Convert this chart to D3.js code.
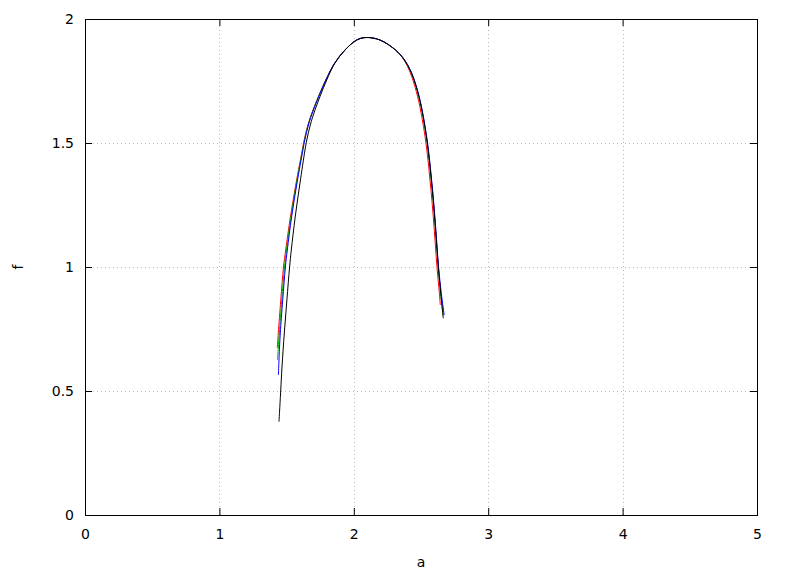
<!DOCTYPE html>
<html><head><meta charset="utf-8">
<script src="https://cdn.jsdelivr.net/npm/d3@7"></script>
<style>body{margin:0;background:#fff}svg{display:block}text{font-family:"DejaVu Sans",sans-serif;font-size:14px;fill:#000}</style>
</head><body><div id="c"></div>
<script>
const xTicks = [0, 1, 2, 3, 4, 5];
const yTicks = [0, 0.5, 1, 1.5, 2];
const xLabel = "a";
const yLabel = "f";

const redA = [1.4308, 1.4382, 1.4568, 1.4769, 1.4933, 1.5283, 1.5707, 1.6168, 1.6310, 1.6585, 1.6964, 1.7909, 1.8579, 1.9345, 2.0216, 2.0908, 2.1949, 2.3103, 2.3735, 2.4182, 2.4554, 2.4918, 2.5186, 2.5372, 2.5573, 2.5744, 2.5893, 2.6042, 2.6190, 2.6369, 2.6436];
const redF = [0.6734, 0.7339, 0.8669, 1.0000, 1.0685, 1.2016, 1.3387, 1.4718, 1.5121, 1.5726, 1.6331, 1.7540, 1.8226, 1.8750, 1.9153, 1.9254, 1.9153, 1.8750, 1.8347, 1.7863, 1.7270, 1.6464, 1.5657, 1.4988, 1.4044, 1.3105, 1.2165, 1.1089, 0.9988, 0.8940, 0.8468];

const greenA = [1.4323, 1.4382, 1.4457, 1.4643, 1.4844, 1.4993, 1.5327, 1.5737, 1.6190, 1.6332, 1.6603, 1.6979, 1.7917, 1.8583, 1.9345, 2.0216, 2.0908, 2.1949, 2.3103, 2.3772, 2.4256, 2.4643, 2.5015, 2.5283, 2.5469, 2.5670, 2.5841, 2.5990, 2.6138, 2.6287, 2.6466, 2.6644];
const greenF = [0.6250, 0.6734, 0.7339, 0.8669, 1.0000, 1.0685, 1.2016, 1.3387, 1.4718, 1.5121, 1.5726, 1.6331, 1.7540, 1.8226, 1.8750, 1.9153, 1.9254, 1.9153, 1.8750, 1.8347, 1.7863, 1.7270, 1.6464, 1.5657, 1.4988, 1.4044, 1.3105, 1.2165, 1.1089, 0.9988, 0.8940, 0.8024];

const blueA = [1.4390, 1.4472, 1.4531, 1.4710, 1.4911, 1.5052, 1.5372, 1.5774, 1.6213, 1.6354, 1.6622, 1.6994, 1.7924, 1.8586, 1.9345, 2.0216, 2.0908, 2.1949, 2.3103, 2.3780, 2.4278, 2.4665, 2.5037, 2.5305, 2.5491, 2.5692, 2.5863, 2.6012, 2.6161, 2.6310, 2.6510, 2.6726];
const blueF = [0.5645, 0.6734, 0.7339, 0.8669, 1.0000, 1.0685, 1.2016, 1.3387, 1.4718, 1.5121, 1.5726, 1.6331, 1.7540, 1.8226, 1.8750, 1.9153, 1.9254, 1.9153, 1.8750, 1.8347, 1.7863, 1.7270, 1.6464, 1.5657, 1.4988, 1.4044, 1.3105, 1.2165, 1.1089, 0.9988, 0.8940, 0.8065];

const blackA = [1.4435, 1.4561, 1.4658, 1.4829, 1.5022, 1.5223, 1.5350, 1.5640, 1.5997, 1.6369, 1.6503, 1.6763, 1.7113, 1.7984, 1.8601, 1.9345, 2.0216, 2.0908, 2.1949, 2.3103, 2.3772, 2.4256, 2.4643, 2.5015, 2.5283, 2.5469, 2.5670, 2.5841, 2.5990, 2.6138, 2.6287, 2.6466, 2.6659];
const blackF = [0.3762, 0.5000, 0.5968, 0.7339, 0.8669, 1.0000, 1.0685, 1.2016, 1.3387, 1.4718, 1.5121, 1.5726, 1.6331, 1.7540, 1.8226, 1.8750, 1.9153, 1.9254, 1.9153, 1.8750, 1.8347, 1.7863, 1.7270, 1.6464, 1.5657, 1.4988, 1.4044, 1.3105, 1.2165, 1.1089, 0.9988, 0.8940, 0.7931];

const series = [
  {a: redA, f: redF, color: "#ff0000"},
  {a: greenA, f: greenF, color: "#00b000"},
  {a: blueA, f: blueF, color: "#0000ff"},
  {a: blackA, f: blackF, color: "#000000"}
];

const W = 788, H = 576;
const m = {l: 85, r: 31, t: 19, b: 61};
const svg = d3.select("#c").append("svg").attr("width", W).attr("height", H);
const x = d3.scaleLinear().domain([0, 5]).range([m.l, W - m.r]);
const y = d3.scaleLinear().domain([0, 2]).range([H - m.b, m.t]);

// grid
const g = svg.append("g").attr("stroke", "#bbb").attr("stroke-width", 1).attr("stroke-dasharray", "1,3");
xTicks.slice(1, -1).forEach(t => g.append("line").attr("x1", Math.round(x(t)) + 0.5).attr("x2", Math.round(x(t)) + 0.5).attr("y1", y(0)).attr("y2", y(2)));
yTicks.slice(1, -1).forEach(t => g.append("line").attr("y1", Math.round(y(t)) + 0.5).attr("y2", Math.round(y(t)) + 0.5).attr("x1", x(0)).attr("x2", x(5)));

// axes (ticks inward, mirrored)
const tl = 7;
svg.append("g").attr("transform", `translate(0,${y(0)})`).call(d3.axisBottom(x).tickValues(xTicks).tickSize(-tl).tickPadding(14).tickFormat(d3.format("d")));
svg.append("g").attr("transform", `translate(0,${y(2)})`).call(d3.axisTop(x).tickValues(xTicks).tickSize(-tl).tickFormat(""));
svg.append("g").attr("transform", `translate(${x(0)},0)`).call(d3.axisLeft(y).tickValues(yTicks).tickSize(-tl).tickPadding(11).tickFormat(d => d));
svg.append("g").attr("transform", `translate(${x(5)},0)`).call(d3.axisRight(y).tickValues(yTicks).tickSize(-tl).tickFormat(""));
svg.selectAll(".domain").remove();
svg.selectAll(".tick line").attr("stroke", "#000");
svg.selectAll(".tick text").style("font-size", "14px").style("font-family", "DejaVu Sans, sans-serif");
svg.append("rect").attr("x", x(0) + 0.5).attr("y", y(2) + 0.5).attr("width", x(5) - x(0)).attr("height", y(0) - y(2))
  .attr("fill", "none").attr("stroke", "#000").attr("stroke-width", 1);

// curves
const line = d3.line().x(d => x(d[0])).y(d => y(d[1])).curve(d3.curveCatmullRom.alpha(0.5));
series.forEach(s => {
  svg.append("path").datum(s.a.map((v, i) => [v, s.f[i]]))
    .attr("d", line).attr("fill", "none").attr("stroke", s.color).attr("stroke-width", 1);
});

// labels
svg.append("text").attr("x", x(2.5)).attr("y", 567).attr("text-anchor", "middle").text(xLabel);
svg.append("text").attr("transform", `translate(23,${y(1)}) rotate(-90)`).attr("text-anchor", "middle").text(yLabel);
</script></body></html>
